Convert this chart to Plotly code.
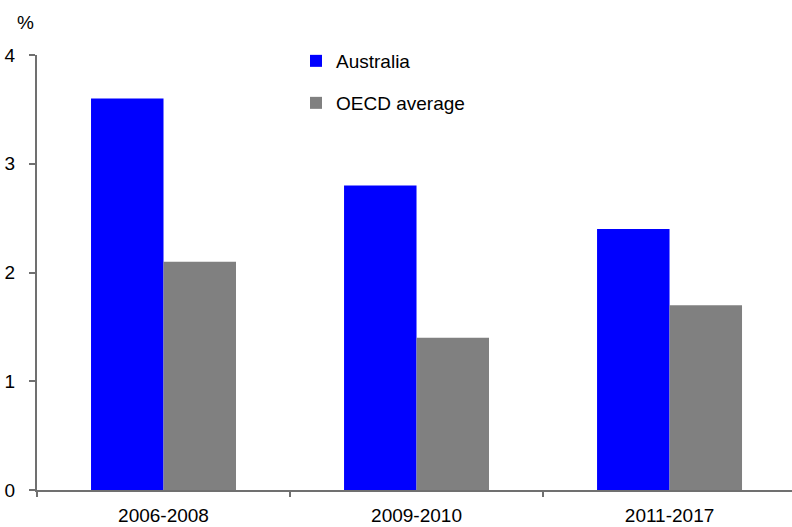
import plotly.graph_objects as go

categories = ["2006-2008", "2009-2010", "2011-2017"]
australia = [3.6, 2.8, 2.4]
oecd = [2.1, 1.4, 1.7]
y_ticks = [0, 1, 2, 3, 4]

FONT_FAMILY = "Liberation Sans, Arial, sans-serif"
font = dict(family=FONT_FAMILY, size=19, color="#000000")

fig = go.Figure()
fig.add_trace(go.Bar(name="Australia", x=categories, y=australia, marker_color="#0000FF",
                     marker_line_width=0, legend="legend"))
fig.add_trace(go.Bar(name="OECD average", x=categories, y=oecd, marker_color="#808080",
                     marker_line_width=0, legend="legend2"))

legend_common = dict(xanchor="left", yanchor="middle", bgcolor="rgba(0,0,0,0)",
                     font=dict(family=FONT_FAMILY, size=19, color="#000"), itemwidth=30)
fig.update_layout(
    width=792, height=527,
    margin=dict(l=37, r=0, t=55, b=37, autoexpand=False),
    paper_bgcolor="white", plot_bgcolor="white",
    barmode="group", bargap=0.427, bargroupgap=0,
    font=font,
    showlegend=True,
    legend=dict(x=(296 - 37) / 755, y=(490 - 61) / 435, **legend_common),
    legend2=dict(x=(296 - 37) / 755, y=(490 - 103) / 435, **legend_common),
    xaxis=dict(range=[-0.5, 2.484], showline=True, linecolor="#707070", linewidth=2,
               ticks="outside", tickson="boundaries", ticklen=5, tickcolor="#707070", tickwidth=2,
               showgrid=False, ticklabelstandoff=7, tickfont=font, automargin=False),
    yaxis=dict(range=[0, 4], tickvals=y_ticks, showline=True, linecolor="#707070", linewidth=2,
               ticks="outside", ticklen=6, tickcolor="#707070", tickwidth=2,
               showgrid=False, zeroline=False, ticklabelstandoff=10, tickfont=font,
               automargin=False),
    annotations=[dict(text="%", xref="paper", yref="paper", x=(25 - 37) / 755,
                      y=(527 - 22 - 37) / 435, xanchor="center", yanchor="middle",
                      showarrow=False, font=font)],
)
fig.write_html("out.html")
